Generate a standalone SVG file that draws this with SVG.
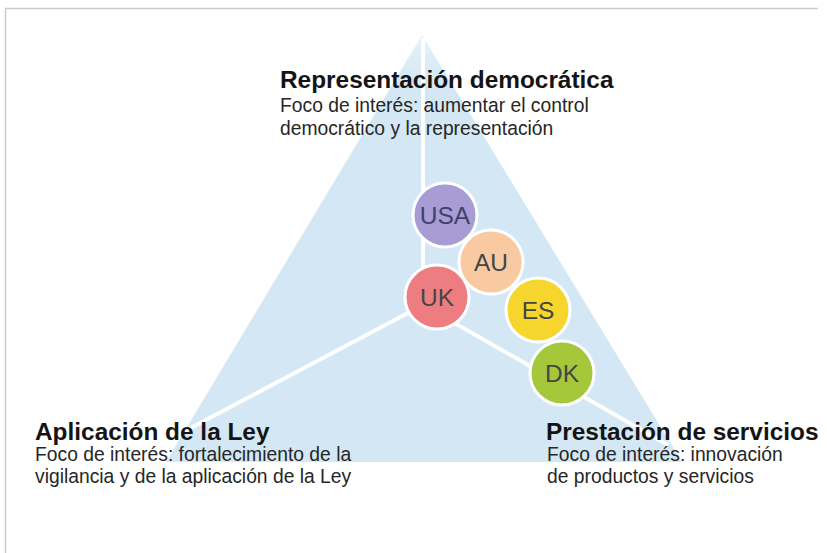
<svg xmlns="http://www.w3.org/2000/svg" width="827" height="553" viewBox="0 0 827 553">
<defs>
<linearGradient id="tri" x1="0" y1="0" x2="0" y2="1">
<stop offset="0" stop-color="#e6f2f9"/>
<stop offset="0.12" stop-color="#d3e8f4"/>
<stop offset="1" stop-color="#d3e8f4"/>
</linearGradient>
</defs>
<style>
.title{font-family:"Liberation Sans",Arial,sans-serif;font-weight:bold;font-size:24.4px;fill:#141414}
.body{font-family:"Liberation Sans",Arial,sans-serif;font-size:19.3px;fill:#262626}
.lbl{font-family:"Liberation Sans",Arial,sans-serif;font-size:24.5px;text-anchor:middle;fill:#454545}
.node circle{stroke:#ffffff;stroke-width:3}
.conn line{stroke:#ffffff;stroke-width:4;stroke-linecap:butt}
</style>
<rect width="827" height="553" fill="#ffffff"/>
<path d="M5.5 553 V8.5 H818" fill="none" stroke="#cccccc" stroke-width="1.5"/>
<polygon points="422,35 166,462 682,462" fill="url(#tri)"/>
<g id="connectors" class="conn">
<line x1="423" y1="38" x2="423" y2="305"/>
<line x1="423" y1="305" x2="185" y2="431"/>
<line x1="423" y1="305" x2="668" y2="445"/>
</g>
<g id="usa" class="node"><circle cx="445" cy="215" r="32" fill="#a79cd3"/><text class="lbl" x="445" y="224" style="fill:#3f3f70">USA</text></g>
<g id="au" class="node"><circle cx="491" cy="262" r="32" fill="#f9caa2"/><text class="lbl" x="491" y="271">AU</text></g>
<g id="uk" class="node"><circle cx="437" cy="297" r="32" fill="#ee7d82"/><text class="lbl" x="437" y="306">UK</text></g>
<g id="es" class="node"><circle cx="538" cy="310" r="32" fill="#f6d52c"/><text class="lbl" x="538" y="319">ES</text></g>
<g id="dk" class="node"><circle cx="562" cy="373" r="32" fill="#a5c83b"/><text class="lbl" x="562" y="382">DK</text></g>
<g id="representacion">
<text class="title" x="280" y="88">Representación democrática</text>
<text class="body" x="280" y="112">Foco de interés: aumentar el control</text>
<text class="body" x="280" y="135">democrático y la representación</text>
</g>
<g id="aplicacion">
<text class="title" x="35" y="440">Aplicación de la Ley</text>
<text class="body" x="35" y="461">Foco de interés: fortalecimiento de la</text>
<text class="body" x="35" y="483">vigilancia y de la aplicación de la Ley</text>
</g>
<g id="prestacion">
<text class="title" x="546" y="440">Prestación de servicios</text>
<text class="body" x="547" y="461">Foco de interés: innovación</text>
<text class="body" x="547" y="483">de productos y servicios</text>
</g>
</svg>
